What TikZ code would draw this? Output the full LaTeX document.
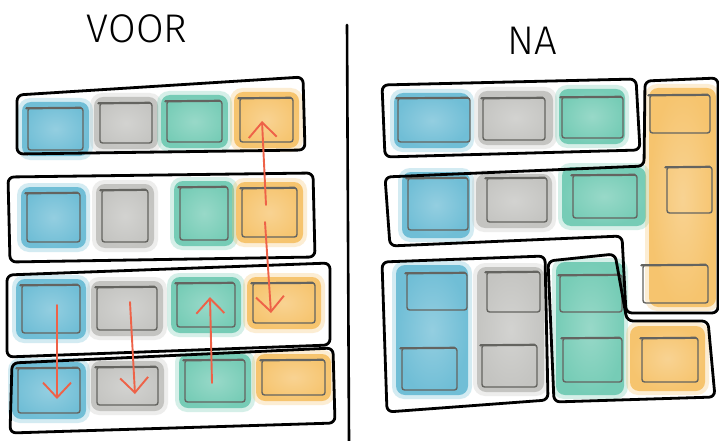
\documentclass[tikz,border=0pt]{standalone}
\usepackage{fontspec}
\setmainfont{Liberation Sans}
\IfFontExistsTF{Fira Sans Light}{\newfontfamily\handfont{Fira Sans Light}}{\newfontfamily\handfont{Liberation Sans}}
\usetikzlibrary{arrows.meta}
\definecolor{cblue}{RGB}{112,190,214}
\definecolor{cgrey}{RGB}{196,196,193}
\definecolor{cgreen}{RGB}{118,204,182}
\definecolor{corange}{RGB}{246,196,110}
\definecolor{cred}{RGB}{238,98,72}
\definecolor{cline}{RGB}{100,100,96}
\tikzset{
  halost/.style={rounded corners=12pt, opacity=0.3},
  blobst/.style={rounded corners=9pt},
  sqst/.style={draw=cline, line width=1.4pt, rounded corners=2.5pt, inner sep=0pt, rectangle},
  topst/.style={draw=cline, line width=2.2pt, line cap=round},
  encl/.style={draw=black, line width=2.8pt, rounded corners=6pt, line join=round},
  redarrow/.style={draw=cred, line width=1.9pt, line cap=round, -{Straight Barb[length=15pt,width=28pt]}},
  titlest/.style={font=\handfont\fontsize{40}{40}\selectfont, inner sep=0pt},
  divst/.style={draw=black, line width=2.6pt, line cap=round},
}
\newcommand\wblob[5]{%
  \fill[#1, halost] (#2-4,#3-4) rectangle (#4+4,#5+4);
  \shade[blobst, inner color=#1!75!white, outer color=#1] (#2,#3) rectangle (#4,#5);}
\newcommand\sqn[5]{\node[sqst, minimum width={#4pt-#2pt}, minimum height={#5pt-#3pt}] (#1) at ({(#2+#4)/2},{(#3+#5)/2}) {};
  \draw[topst] ([xshift=-1pt,yshift=-1pt]#1.north west) -- ([xshift=-3pt,yshift=-0.5pt]#1.north east);}
\newcommand\wcell[6]{\wblob{#2}{#3-6}{#4-6}{#5+6}{#6+6}\sqn{#1}{#3}{#4}{#5}{#6}}
\begin{document}
\begin{tikzpicture}[x=1pt,y=-1pt]
\fill[white] (0,0) rectangle (719,441);
\useasboundingbox (0,0) rectangle (719,441);

% titles
\node[titlest] (voor) at (137,29) {VOOR};
\node[titlest] (na) at (532,41) {NA};

% divider
\coordinate (d1) at (347,25);
\coordinate (d2) at (349,441);
\draw[divst] (d1) -- (d2);

% ---------- left panel cells ----------
\wcell{L1a}{cblue}{28}{108}{83}{150}
\wcell{L1b}{cgrey}{100}{103}{152}{143}
\wcell{L1c}{cgreen}{167}{101}{222}{142}
\wcell{L1d}{corange}{240}{98}{293}{142}

\wcell{L2a}{cblue}{27}{193}{80}{242}
\wcell{L2b}{cgrey}{102}{190}{148}{242}
\wcell{L2c}{cgreen}{180}{187}{228}{240}
\wcell{L2d}{corange}{242}{188}{297}{237}

\wcell{L3a}{cblue}{22}{285}{80}{333}
\wcell{L3b}{cgrey}{97}{287}{157}{330}
\wcell{L3c}{cgreen}{177}{283}{235}{327}
\wcell{L3d}{corange}{253}{283}{315}{323}

\wcell{L4a}{cblue}{18}{368}{80}{413}
\wcell{L4b}{cgrey}{97}{367}{158}{405}
\wcell{L4c}{cgreen}{185}{360}{245}{402}
\wcell{L4d}{corange}{262}{360}{325}{395}

% left enclosures
\draw[encl] (17,95) -- (303,77) -- (305,150) -- (17,154) -- cycle;
\draw[encl] (8,177) -- (313,173) -- (315,257) -- (10,262) -- cycle;
\draw[encl] (7,275) -- (330,263) -- (330,345) -- (7,357) -- cycle;
\draw[encl] (12,363) -- (333,348) -- (335,423) -- (10,433) -- cycle;

% ---------- right panel fills ----------
\wblob{cblue}{394}{93}{470}{148}
\wblob{cgrey}{478}{91}{553}{145}
\wblob{cgreen}{559}{89}{625}{144}
\wblob{cblue}{402}{172}{470}{238}
\wblob{cgrey}{476}{174}{552}{228}
\wblob{cgreen}{562}{167}{646}{226}
\wblob{corange}{649}{88}{716}{307}
\wblob{cblue}{396}{265}{468}{395}
\wblob{cgrey}{477}{267}{544}{392}
\wblob{cgreen}{556}{262}{624}{395}
\wblob{corange}{630}{326}{705}{391}

% right outlines
\sqn{R1a}{398}{98}{470}{142}
\sqn{R1b}{483}{98}{545}{140}
\sqn{R1c}{562}{97}{623}{138}
\sqn{R2a}{408}{178}{468}{230}
\sqn{R2b}{487}{178}{547}{222}
\sqn{R2c}{573}{175}{637}{218}
\sqn{O1}{650}{95}{710}{133}
\sqn{O2}{667}{167}{712}{213}
\sqn{O3}{643}{265}{708}{303}
\sqn{R3a}{407}{273}{467}{310}
\sqn{R3b}{402}{348}{457}{390}
\sqn{R3c}{487}{272}{540}{312}
\sqn{R3d}{482}{345}{537}{387}
\sqn{R4a}{560}{275}{622}{312}
\sqn{R4b}{563}{338}{622}{382}
\sqn{R4c}{642}{338}{698}{382}

% right enclosures
\draw[encl] (382,85) -- (636,79) -- (640,150) -- (385,157) -- cycle;
\draw[encl] (385,177) -- (644,166) -- (645,81) -- (718,78) -- (718,313) -- (626,313) -- (622,236) -- (390,246) -- cycle;
\draw[encl] (382,262) -- (545,256) -- (548,400) -- (387,412) -- cycle;
\draw[encl] (548,261) -- (615,254) -- (627,321) -- (708,321) -- (715,397) -- (554,402) -- cycle;

% ---------- arrows ----------
\coordinate (a1s) at (266,205); \coordinate (a1e) at (262,121);
\coordinate (a2s) at (265,222); \coordinate (a2e) at (271,313);
\coordinate (a3s) at (57,305);  \coordinate (a3e) at (57,399);
\coordinate (a4s) at (130,302); \coordinate (a4e) at (135,394);
\coordinate (a5s) at (212,383); \coordinate (a5e) at (210,297);
\draw[redarrow] (a1s) -- (a1e);
\draw[redarrow] (a2s) -- (a2e);
\draw[redarrow] (a3s) -- (a3e);
\draw[redarrow] (a4s) -- (a4e);
\draw[redarrow] (a5s) -- (a5e);
\end{tikzpicture}
\end{document}
